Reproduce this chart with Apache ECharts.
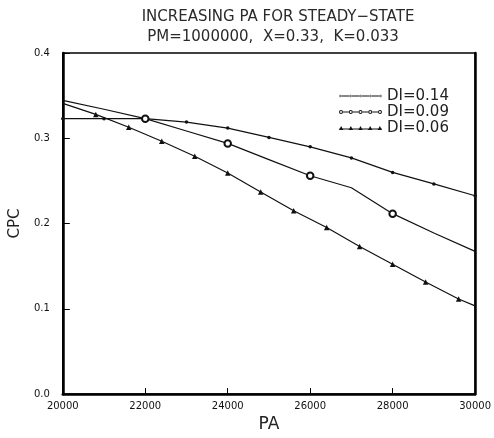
<!DOCTYPE html>
<html>
<head>
<meta charset="utf-8">
<script src="https://cdn.jsdelivr.net/npm/echarts@6/dist/echarts.min.js"></script>
<style>
  html, body { margin: 0; padding: 0; background: #fff; }
  #chart { width: 494px; height: 438px; }
</style>
</head>
<body>
<div id="chart"></div>
<script>
// PA values and CPC results for each DI case
const paDi14  = [20000, 21000, 22000, 23000, 24000, 25000, 26000, 27000, 28000, 29000, 30000];
const cpcDi14 = [0.323, 0.323, 0.323, 0.319, 0.312, 0.301, 0.290, 0.277, 0.260, 0.2465, 0.2326];

const paDi09  = [20000, 21000, 22000, 23000, 24000, 25000, 26000, 27000, 28000, 29000, 30000];
const cpcDi09 = [0.3445, 0.334, 0.323, 0.3085, 0.294, 0.275, 0.256, 0.242, 0.2116, 0.189, 0.1674];
const markedDi09 = [22000, 24000, 26000, 28000];

const paDi06  = [20000, 20800, 21600, 22400, 23200, 24000, 24800, 25600, 26400, 27200, 28000, 28800, 29600, 30000];
const cpcDi06 = [0.341, 0.328, 0.313, 0.2965, 0.279, 0.2593, 0.237, 0.215, 0.1953, 0.173, 0.1523, 0.1314, 0.1116, 0.1035];
const markedDi06 = [20800, 21600, 22400, 23200, 24000, 24800, 25600, 26400, 27200, 28000, 28800, 29600];

const seriesNames = ['DI=0.14', 'DI=0.09', 'DI=0.06'];
const xTicks = { min: 20000, max: 30000, step: 2000 };
const yTicks = { min: 0, max: 0.4, step: 0.1 };

const INK = '#111';
const FONT = 'DejaVu Sans';

function pairs(xs, ys, marked) {
  return xs.map((x, i) => {
    const item = { value: [x, ys[i]] };
    if (marked && marked.indexOf(x) < 0) item.symbol = 'none';
    return item;
  });
}

// Legend icons: a short line carrying five markers
function dotsIcon() {
  let p = 'path://M0,2.6 L43,2.6 L43,3.4 L0,3.4 Z';
  [1.5, 11.5, 21.5, 31.5, 41.5].forEach(cx => {
    p += ' M' + (cx - 1.3) + ',3 a1.3,1.3 0 1,0 2.6,0 a1.3,1.3 0 1,0 -2.6,0 Z';
  });
  return p;
}
function ringsIcon() {
  const xs = [2, 11.75, 21.5, 31.25, 41];
  let p = 'path://';
  xs.forEach((cx, i) => {
    p += ' M' + (cx - 2) + ',3 a2,2 0 1,0 4,0 a2,2 0 1,0 -4,0 Z';
    p += ' M' + (cx - 1) + ',3 a1,1 0 1,1 2,0 a1,1 0 1,1 -2,0 Z';
    if (i < xs.length - 1) {
      const a = cx + 2, b = xs[i + 1] - 2;
      p += ' M' + a + ',2.6 L' + b + ',2.6 L' + b + ',3.4 L' + a + ',3.4 Z';
    }
  });
  return p;
}
function trianglesIcon() {
  let p = 'path://M0,3.6 L43,3.6 L43,4.4 L0,4.4 Z';
  [2, 11.75, 21.5, 31.25, 41].forEach(cx => {
    p += ' M' + (cx - 2.2) + ',5 L' + cx + ',1 L' + (cx + 2.2) + ',5 Z';
  });
  return p;
}

const chart = echarts.init(document.getElementById('chart'), null, { renderer: 'canvas' });

chart.setOption({
  backgroundColor: '#fff',
  animation: false,
  textStyle: { fontFamily: FONT, color: INK },
  title: [
    {
      text: 'INCREASING PA FOR STEADY\u2212STATE',
      left: 273, top: 5, textAlign: 'center',
      textStyle: { fontFamily: FONT, fontSize: 15, fontWeight: 'normal', color: '#2a2a2a' }
    },
    {
      text: 'PM=1000000,  X=0.33,  K=0.033',
      left: 268, top: 25, textAlign: 'center',
      textStyle: { fontFamily: FONT, fontSize: 15, fontWeight: 'normal', color: '#2a2a2a' }
    }
  ],
  legend: {
    orient: 'vertical',
    left: 339, top: 88,
    padding: 0,
    itemWidth: 43, itemHeight: 6, itemGap: 0,
    data: [
      { name: seriesNames[0], icon: dotsIcon() },
      { name: seriesNames[1], icon: ringsIcon() },
      { name: seriesNames[2], icon: trianglesIcon() }
    ],
    itemStyle: { color: INK, borderWidth: 0 },
    textStyle: { fontFamily: FONT, fontSize: 15, color: '#222', lineHeight: 16, padding: [0, 0, 0, 0] }
  },
  grid: {
    left: 61, right: 16, top: 53, bottom: 41,
    show: true, borderColor: '#000', borderWidth: 1.5, backgroundColor: 'transparent'
  },
  xAxis: {
    type: 'value',
    min: xTicks.min, max: xTicks.max, interval: xTicks.step,
    name: 'PA', nameLocation: 'middle', nameGap: 17,
    nameTextStyle: { fontFamily: FONT, fontSize: 17, color: '#222' },
    axisLine: { show: true, lineStyle: { color: '#000', width: 2.5 } },
    axisTick: { show: true, inside: true, length: 6, lineStyle: { color: '#000', width: 1 } },
    axisLabel: {
      margin: 7, fontFamily: FONT, fontSize: 10, color: '#111',
      showMinLabel: true, showMaxLabel: true, formatter: v => String(v)
    },
    splitLine: { show: false }
  },
  yAxis: [
    {
      type: 'value',
      min: yTicks.min, max: yTicks.max, interval: yTicks.step,
      name: 'CPC', nameLocation: 'middle', nameGap: 31,
      nameTextStyle: { fontFamily: FONT, fontSize: 15, color: '#222' },
      axisLine: { show: true, lineStyle: { color: '#000', width: 2.5 } },
      axisTick: { show: true, inside: true, length: 7, lineStyle: { color: '#000', width: 1 } },
      axisLabel: { margin: 13, fontFamily: FONT, fontSize: 10, color: '#111', formatter: v => v.toFixed(1) },
      splitLine: { show: false }
    },
    {
      type: 'value', position: 'right',
      min: yTicks.min, max: yTicks.max, interval: yTicks.step,
      axisLine: { show: true, lineStyle: { color: '#000', width: 2.5 } },
      axisTick: { show: false }, axisLabel: { show: false }, splitLine: { show: false }
    }
  ],
  series: [
    {
      name: seriesNames[0], type: 'line',
      data: pairs(paDi14, cpcDi14),
      symbol: 'circle', symbolSize: 3.5, showAllSymbol: true,
      lineStyle: { color: INK, width: 1.2 },
      itemStyle: { color: INK }
    },
    {
      name: seriesNames[1], type: 'line',
      data: pairs(paDi09, cpcDi09, markedDi09),
      symbol: 'emptyCircle', symbolSize: 6.5, showAllSymbol: true,
      lineStyle: { color: INK, width: 1.2 },
      itemStyle: { color: INK, borderColor: INK, borderWidth: 2 }
    },
    {
      name: seriesNames[2], type: 'line',
      data: pairs(paDi06, cpcDi06, markedDi06),
      symbol: 'triangle', symbolSize: 5.5, showAllSymbol: true,
      lineStyle: { color: INK, width: 1.2 },
      itemStyle: { color: INK }
    }
  ]
});
</script>
</body>
</html>
